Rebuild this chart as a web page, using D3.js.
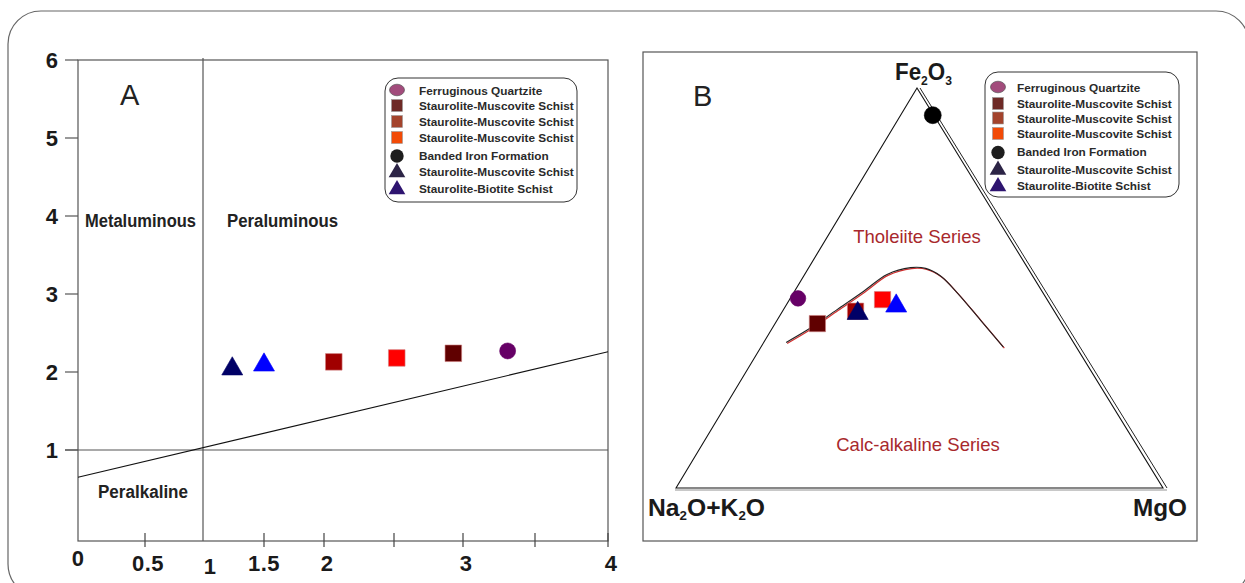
<html>
  <head>
    <script type="text/javascript" src="https://cdn.jsdelivr.net/npm/d3@7"></script>
    <style>
      body { margin: 0; background: #fff; }
      text { font-family: "Liberation Sans", Arial, sans-serif; }
    </style>
  </head>
  <body>
    <script>

        // ---- data ----
        // legend entries (same in both panels)
        var legendNames = ["Ferruginous Quartzite", "Staurolite-Muscovite Schist", "Staurolite-Muscovite Schist",
                           "Staurolite-Muscovite Schist", "Banded Iron Formation", "Staurolite-Muscovite Schist",
                           "Staurolite-Biotite Schist"];
        var legendShapes = ["ellipse", "square", "square", "square", "circle", "triangle", "triangle"];
        var legendColors = ["#a24c7c", "#6e2a26", "#a3432c", "#f24a06", "#1e1e1e", "#2c2446", "#2e1470"];

        // panel A : A/CNK (x) vs A/NK (y)
        var xTicks = [0, 0.5, 1, 1.5, 2, 2.5, 3, 3.5, 4];
        var xTickLabels = ["0", "0.5", "1", "1.5", "2", "", "3", "", "4"];
        var yTicks = [1, 2, 3, 4, 5, 6];
        var aShapes = ["triangle", "triangle", "square", "square", "square", "circle"];
        var aColors = ["#000066", "#0000ff", "#a00000", "#ff0000", "#600000", "#660066"];
        var aX = [1.24, 1.5, 2.07, 2.52, 2.93, 3.31];
        var aY = [2.04, 2.09, 2.13, 2.18, 2.24, 2.27];
        var divideLine = [[0, 0.65], [4, 2.26]];   // peralkaline / metaluminous divide

        // panel B : AFM ternary (Na2O+K2O, Fe2O3, MgO in %)
        var bShapes = ["circle", "circle", "square", "square", "triangle", "square", "triangle"];
        var bColors = ["#000000", "#660066", "#600000", "#a00000", "#000066", "#ff0000", "#0000ff"];
        var bAlk = [0.2, 51.0, 50.2, 40.8, 40.6, 33.8, 31.8];
        var bFe  = [93.2, 47.4, 41.1, 44.2, 43.6, 47.1, 45.5];
        var bMg  = [6.6, 1.6, 8.7, 15.0, 15.7, 19.1, 22.7];
        // tholeiite / calc-alkaline boundary
        var curveAlk = [59.0, 52.2, 44.4, 36.6, 29.7, 24.0, 21.0, 18.9, 17.6, 16.3, 15.0];
        var curveFe  = [36.4, 40.0, 44.6, 49.2, 53.4, 55.1, 54.9, 53.0, 48.8, 42.1, 35.2];
        var curveMg  = [4.6, 7.8, 11.0, 14.2, 16.9, 20.9, 24.1, 28.1, 33.6, 41.6, 49.8];

        var width = 1245, height = 583;

        var svg = d3.select("body").append("svg")
                    .attr("width", width)
                    .attr("height", height);

        // outer rounded frame
        svg.append("rect")
            .attr("x", 8).attr("y", 11)
            .attr("width", 1241).attr("height", 586)
            .attr("rx", 33)
            .style("fill", "none")
            .style("stroke", "#666")
            .style("stroke-width", 1.2);

        function symbolPath(shape, size) {
            var type = shape == "triangle" ? d3.symbolTriangle : shape == "square" ? d3.symbolSquare : d3.symbolCircle;
            return d3.symbol().type(type).size(size)();
        }

        // ================= panel A =================
        var x = d3.scaleLinear().domain(xTicks).range([78, 145, 203, 264, 324, 394, 463, 535, 608]);
        var y = d3.scaleLinear().domain([0, 6]).range([528, 60]);
        var yBottom = 541;

        var gA = svg.append("g");

        // frame
        gA.append("rect")
            .attr("x", x(0)).attr("y", y(6))
            .attr("width", x(4) - x(0)).attr("height", yBottom - y(6))
            .style("fill", "none").style("stroke", "#555").style("stroke-width", 1.2);

        // y ticks + labels
        gA.selectAll(".ytick").data(yTicks).enter().append("line")
            .attr("x1", 65).attr("x2", x(0))
            .attr("y1", function(d) { return y(d); }).attr("y2", function(d) { return y(d); })
            .style("stroke", "#555").style("stroke-width", 1.2);
        gA.selectAll(".ylab").data(yTicks).enter().append("text")
            .attr("x", 58).attr("y", function(d) { return y(d) + 8; })
            .attr("text-anchor", "end")
            .style("font-size", "22px").style("font-weight", "bold").style("fill", "#1a1a1a")
            .text(function(d) { return d; });

        // x ticks + labels
        gA.selectAll(".xtick").data(xTicks.filter(function(d) { return d != 0 && d != 1; })).enter().append("line")
            .attr("x1", function(d) { return x(d); }).attr("x2", function(d) { return x(d); })
            .attr("y1", yBottom - 8).attr("y2", yBottom + 6)
            .style("stroke", "#444").style("stroke-width", 1.2);
        gA.selectAll(".xlab").data(xTicks).enter().append("text")
            .attr("x", function(d) { return x(d) + (d == 1 ? 7 : (d == 0 || d == 1.5) ? 0 : 3); })
            .attr("y", function(d) { return d == 1 ? 574 : d == 0 ? 566 : 571; })
            .attr("text-anchor", "middle")
            .style("font-size", "22px").style("font-weight", "bold").style("letter-spacing", "0.5px")
            .style("fill", "#1a1a1a")
            .text(function(d, i) { return xTickLabels[i]; });

        // divides: A/CNK = 1 and A/NK = 1
        gA.append("line")
            .attr("x1", x(1)).attr("x2", x(1)).attr("y1", y(6) - 2).attr("y2", yBottom)
            .style("stroke", "#555").style("stroke-width", 1.2);
        gA.append("line")
            .attr("x1", 65).attr("x2", x(4)).attr("y1", y(1)).attr("y2", y(1))
            .style("stroke", "#555").style("stroke-width", 1.2);
        gA.append("path")
            .attr("d", d3.line().x(function(d) { return x(d[0]); }).y(function(d) { return y(d[1]); })(divideLine))
            .style("stroke", "#111").style("stroke-width", 1.1).style("fill", "none");

        // field names
        gA.append("text").attr("x", 120).attr("y", 105).style("font-size", "29px").style("fill", "#222").text("A");
        function fieldLabel(tx, ty, label, len) {
            gA.append("text").attr("x", tx).attr("y", ty)
                .attr("textLength", len).attr("lengthAdjust", "spacingAndGlyphs")
                .style("font-size", "18px").style("font-weight", "bold").style("fill", "#222")
                .text(label);
        }
        fieldLabel(85, 227, "Metaluminous", 111);
        fieldLabel(227, 227, "Peraluminous", 111);
        fieldLabel(98, 498, "Peralkaline", 90);

        // samples
        gA.selectAll(".pt").data(aX).enter().append("path")
            .attr("transform", function(d, i) { return "translate(" + x(d) + "," + y(aY[i]) + ")"; })
            .attr("d", function(d, i) {
                var s = aShapes[i];
                return symbolPath(s, s == "triangle" ? 191 : s == "square" ? 275 : 201);
            })
            .style("fill", function(d, i) { return aColors[i]; })
            .style("stroke", function(d, i) { return aShapes[i] == "square" ? "#d08080" : aColors[i]; })
            .style("stroke-width", 0.6);

        // legend
        function drawLegend(g, bx, by, bw, bh, rowY, markX, textX) {
            g.append("rect")
                .attr("x", bx).attr("y", by).attr("width", bw).attr("height", bh).attr("rx", 13)
                .style("fill", "#fff").style("stroke", "#333").style("stroke-width", 1);
            var row = g.selectAll(".leg").data(legendNames).enter().append("g")
                .attr("transform", function(d, i) { return "translate(0," + rowY[i] + ")"; });
            row.each(function(d, i) {
                var r = d3.select(this), s = legendShapes[i];
                if (s == "ellipse") {
                    r.append("ellipse").attr("cx", markX).attr("cy", 0).attr("rx", 7.5).attr("ry", 5.8)
                        .style("fill", legendColors[i]).style("stroke", "#444").style("stroke-width", 0.6);
                } else if (s == "square") {
                    r.append("rect").attr("x", markX - 5.5).attr("y", -6).attr("width", 11).attr("height", 12)
                        .style("fill", legendColors[i]).style("stroke", "#999").style("stroke-width", 0.6);
                } else {
                    r.append("path")
                        .attr("transform", "translate(" + markX + ",1)")
                        .attr("d", symbolPath(s, s == "triangle" ? 120 : 140))
                        .style("fill", legendColors[i]);
                }
                r.append("text").attr("x", textX).attr("y", 4.5)
                    .style("font-size", "11.8px").style("font-weight", "bold").style("fill", "#2a2a2a")
                    .text(d);
            });
        }
        drawLegend(gA.append("g"), 385, 78, 192, 124, [90, 105.5, 121.5, 137.5, 155, 171.5, 188.5], 397, 419);

        // ================= panel B =================
        var gB = svg.append("g");
        gB.append("rect")
            .attr("x", 643).attr("y", 52).attr("width", 554).attr("height", 489)
            .style("fill", "none").style("stroke", "#555").style("stroke-width", 1.2);

        // ternary corners: L = Na2O+K2O, T = Fe2O3, R = MgO
        var L = [676, 488], T = [917, 88], R = [1163, 488];
        var feY = d3.scaleLinear().domain([0, 100]).range([L[1], T[1]]);
        var feX = d3.scaleLinear().domain([0, 100]).range([0, T[0] - L[0]]);
        var mgX = d3.scaleLinear().domain([0, 100]).range([0, R[0] - L[0]]);
        function tern(alk, fe, mg) {
            var k = 100 / (alk + fe + mg);
            return [L[0] + feX(fe * k) + mgX(mg * k), feY(fe * k)];
        }

        var triLine = d3.line();
        gB.append("path")
            .attr("d", triLine([L, T, R]) + "Z")
            .style("fill", "none").style("stroke", "#111").style("stroke-width", 1.1);
        gB.append("path")
            .attr("d", triLine([[T[0] + 3, T[1]], [R[0] + 4, R[1]]]))
            .style("fill", "none").style("stroke", "#222").style("stroke-width", 1);
        gB.append("path")
            .attr("d", triLine([[L[0] - 1, L[1] + 2], [R[0] + 4, R[1] + 2]]))
            .style("fill", "none").style("stroke", "#777").style("stroke-width", 0.8);

        // boundary curve (red copy under black)
        var curvePts = curveAlk.map(function(d, i) { return tern(d, curveFe[i], curveMg[i]); });
        var curveGen = d3.line().curve(d3.curveCatmullRom);
        gB.append("path")
            .attr("d", curveGen(curvePts)).attr("transform", "translate(1,1)")
            .style("fill", "none").style("stroke", "#d03030").style("stroke-width", 1.2);
        gB.append("path")
            .attr("d", curveGen(curvePts))
            .style("fill", "none").style("stroke", "#222").style("stroke-width", 1.1);

        // field labels
        gB.append("text").attr("x", 917).attr("y", 243).attr("text-anchor", "middle")
            .style("font-size", "18.5px").style("fill", "#a8282c").text("Tholeiite Series");
        gB.append("text").attr("x", 918).attr("y", 451).attr("text-anchor", "middle")
            .style("font-size", "18.5px").style("fill", "#a8282c").text("Calc-alkaline Series");
        gB.append("text").attr("x", 693).attr("y", 106).style("font-size", "29px").style("fill", "#222").text("B");

        // apex labels with subscripts
        var apexStyle = function(t) { t.style("font-size", "24px").style("font-weight", "bold").style("fill", "#1a1a1a"); };
        var fe = gB.append("text").attr("x", 895).attr("y", 80).call(apexStyle)
            .attr("textLength", 57).attr("lengthAdjust", "spacingAndGlyphs");
        fe.append("tspan").text("Fe");
        fe.append("tspan").attr("dy", 5).style("font-size", "13px").text("2");
        fe.append("tspan").attr("dy", -5).text("O");
        fe.append("tspan").attr("dy", 5).style("font-size", "13px").text("3");

        var nk = gB.append("text").attr("x", 648).attr("y", 516).call(apexStyle)
            .attr("textLength", 117).attr("lengthAdjust", "spacingAndGlyphs");
        nk.append("tspan").text("Na");
        nk.append("tspan").attr("dy", 4).style("font-size", "13px").text("2");
        nk.append("tspan").attr("dy", -4).text("O+K");
        nk.append("tspan").attr("dy", 4).style("font-size", "13px").text("2");
        nk.append("tspan").attr("dy", -4).text("O");

        gB.append("text").attr("x", 1133).attr("y", 516).call(apexStyle)
            .attr("textLength", 54).attr("lengthAdjust", "spacingAndGlyphs").text("MgO");

        // samples
        gB.selectAll(".pt").data(bAlk).enter().append("path")
            .attr("transform", function(d, i) { var p = tern(d, bFe[i], bMg[i]); return "translate(" + p[0] + "," + p[1] + ")"; })
            .attr("d", function(d, i) {
                var s = bShapes[i];
                return symbolPath(s, s == "triangle" ? 191 : s == "square" ? 265 : (i == 0 ? 227 : 190));
            })
            .style("fill", function(d, i) { return bColors[i]; })
            .style("stroke", function(d, i) { return bShapes[i] == "square" ? "#d08080" : bColors[i]; })
            .style("stroke-width", 0.6);

        drawLegend(gB.append("g"), 985, 72, 194, 125, [87, 103.5, 118, 133.5, 151.5, 169, 185.5], 998, 1017);

    </script>
  </body>
</html>
